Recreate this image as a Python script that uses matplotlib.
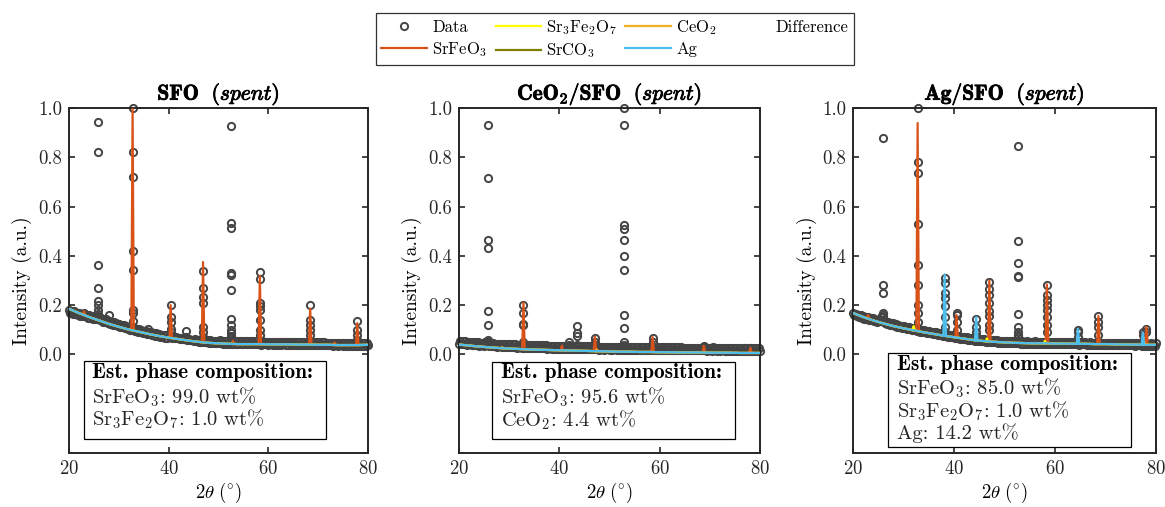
import numpy as np
import matplotlib
matplotlib.use("Agg")
import matplotlib.pyplot as plt
from matplotlib.lines import Line2D
from matplotlib.patches import Rectangle
from matplotlib.ticker import FormatStrFormatter
import matplotlib.patheffects as pe

plt.rcParams.update({
    "font.family": "serif",
    "font.serif": ["cmr10"],
    "mathtext.fontset": "cm",
    "axes.formatter.use_mathtext": True,
    "axes.unicode_minus": False,
})

# ---------------- data ----------------
titles = [r"$\mathbf{SFO}\ \ \mathit{(spent)}$",
          r"$\mathbf{CeO_2/SFO}\ \ \mathit{(spent)}$",
          r"$\mathbf{Ag/SFO}\ \ \mathit{(spent)}$"]

# background data band: two interleaved sample sets (20.0, 20.5 ... and 20.25, 20.75 ...)
band_xa = np.linspace(20, 80, 121)
band_xb = np.linspace(20.25, 79.75, 120)

p1_band_a = [0.182, 0.178, 0.175, 0.170, 0.168, 0.166, 0.168, 0.160, 0.158, 0.154,
             0.152, 0.158, 0.150, 0.146, 0.140, 0.142, 0.136, 0.133, 0.130, 0.127,
             0.125, 0.121, 0.118, 0.115, 0.113, 0.110, 0.106, 0.104, 0.102, 0.100,
             0.097, 0.094, 0.092, 0.090, 0.087, 0.085, 0.083, 0.080, 0.079, 0.077,
             0.075, 0.073, 0.071, 0.069, 0.068, 0.066, 0.064, 0.063, 0.061, 0.060,
             0.055, 0.054, 0.052, 0.051, 0.050, 0.049, 0.048, 0.047, 0.047, 0.046,
             0.045, 0.045, 0.044, 0.044, 0.043, 0.044, 0.043, 0.042, 0.043, 0.042,
             0.042, 0.043, 0.041, 0.042, 0.041, 0.042, 0.041, 0.040, 0.041, 0.041,
             0.040, 0.041, 0.039, 0.040, 0.040, 0.039, 0.041, 0.039, 0.040, 0.039,
             0.039, 0.040, 0.038, 0.039, 0.039, 0.038, 0.039, 0.038, 0.039, 0.038,
             0.038, 0.037, 0.038, 0.037, 0.037, 0.038, 0.036, 0.037, 0.036, 0.037,
             0.036, 0.035, 0.036, 0.035, 0.036, 0.035, 0.035, 0.036, 0.035, 0.036,
             0.037]
p1_band_b = [0.170, 0.166, 0.163, 0.159, 0.157, 0.157, 0.154, 0.149, 0.146, 0.143,
             0.145, 0.144, 0.138, 0.133, 0.131, 0.129, 0.125, 0.121, 0.118, 0.116,
             0.113, 0.110, 0.106, 0.104, 0.101, 0.098, 0.095, 0.093, 0.091, 0.088,
             0.085, 0.083, 0.081, 0.078, 0.076, 0.074, 0.071, 0.069, 0.068, 0.066,
             0.070, 0.068, 0.067, 0.065, 0.064, 0.062, 0.061, 0.060, 0.059, 0.059,
             0.061, 0.060, 0.059, 0.058, 0.058, 0.057, 0.057, 0.056, 0.056, 0.056,
             0.057, 0.056, 0.056, 0.055, 0.055, 0.055, 0.054, 0.054, 0.054, 0.054,
             0.054, 0.053, 0.053, 0.053, 0.053, 0.053, 0.052, 0.053, 0.052, 0.052,
             0.052, 0.052, 0.052, 0.051, 0.052, 0.051, 0.051, 0.051, 0.051, 0.051,
             0.051, 0.050, 0.050, 0.050, 0.050, 0.050, 0.050, 0.049, 0.049, 0.049,
             0.049, 0.049, 0.049, 0.048, 0.048, 0.048, 0.048, 0.048, 0.047, 0.047,
             0.047, 0.047, 0.047, 0.047, 0.047, 0.047, 0.047, 0.047, 0.047, 0.048]
p2_band_a = [0.044, 0.042, 0.043, 0.040, 0.041, 0.039, 0.038, 0.039, 0.036, 0.037,
             0.035, 0.040, 0.034, 0.035, 0.033, 0.032, 0.033, 0.031, 0.032, 0.030,
             0.030, 0.029, 0.030, 0.028, 0.029, 0.028, 0.027, 0.028, 0.026, 0.027,
             0.026, 0.026, 0.025, 0.026, 0.025, 0.024, 0.025, 0.024, 0.024, 0.023,
             0.024, 0.023, 0.024, 0.023, 0.022, 0.023, 0.022, 0.022, 0.023, 0.022,
             0.021, 0.022, 0.021, 0.021, 0.022, 0.021, 0.020, 0.021, 0.020, 0.021,
             0.020, 0.020, 0.021, 0.020, 0.019, 0.020, 0.019, 0.020, 0.019, 0.019,
             0.019, 0.018, 0.019, 0.019, 0.018, 0.019, 0.018, 0.018, 0.019, 0.018,
             0.018, 0.017, 0.018, 0.017, 0.018, 0.017, 0.017, 0.018, 0.017, 0.017,
             0.016, 0.017, 0.016, 0.017, 0.016, 0.016, 0.017, 0.016, 0.016, 0.015,
             0.016, 0.015, 0.016, 0.015, 0.015, 0.016, 0.015, 0.015, 0.014, 0.015,
             0.015, 0.014, 0.015, 0.014, 0.014, 0.015, 0.014, 0.014, 0.013, 0.014,
             0.013]
p2_band_b = [0.055, 0.054, 0.053, 0.052, 0.052, 0.050, 0.050, 0.049, 0.048, 0.047,
             0.049, 0.049, 0.046, 0.046, 0.044, 0.044, 0.044, 0.043, 0.043, 0.042,
             0.041, 0.041, 0.041, 0.040, 0.040, 0.039, 0.039, 0.039, 0.038, 0.038,
             0.038, 0.037, 0.037, 0.037, 0.037, 0.036, 0.036, 0.036, 0.035, 0.035,
             0.035, 0.035, 0.035, 0.034, 0.034, 0.034, 0.034, 0.034, 0.034, 0.033,
             0.033, 0.033, 0.033, 0.033, 0.033, 0.032, 0.032, 0.032, 0.032, 0.032,
             0.032, 0.032, 0.032, 0.031, 0.031, 0.031, 0.031, 0.031, 0.031, 0.031,
             0.030, 0.030, 0.031, 0.030, 0.030, 0.030, 0.030, 0.030, 0.030, 0.030,
             0.029, 0.029, 0.029, 0.029, 0.029, 0.029, 0.029, 0.029, 0.029, 0.028,
             0.028, 0.028, 0.028, 0.028, 0.028, 0.028, 0.028, 0.028, 0.027, 0.027,
             0.027, 0.027, 0.027, 0.027, 0.027, 0.027, 0.027, 0.026, 0.026, 0.026,
             0.026, 0.026, 0.026, 0.026, 0.026, 0.026, 0.026, 0.025, 0.025, 0.025]
p3_band_a = [0.170, 0.166, 0.162, 0.160, 0.155, 0.152, 0.150, 0.146, 0.147, 0.141,
             0.140, 0.152, 0.138, 0.133, 0.131, 0.128, 0.126, 0.122, 0.121, 0.117,
             0.116, 0.113, 0.112, 0.109, 0.107, 0.106, 0.103, 0.100, 0.099, 0.097,
             0.095, 0.093, 0.091, 0.089, 0.087, 0.085, 0.083, 0.081, 0.080, 0.078,
             0.077, 0.075, 0.073, 0.072, 0.070, 0.069, 0.067, 0.066, 0.065, 0.064,
             0.063, 0.062, 0.061, 0.060, 0.059, 0.058, 0.058, 0.057, 0.056, 0.056,
             0.055, 0.055, 0.054, 0.054, 0.053, 0.054, 0.053, 0.053, 0.052, 0.053,
             0.052, 0.052, 0.053, 0.052, 0.051, 0.052, 0.051, 0.051, 0.052, 0.051,
             0.051, 0.050, 0.051, 0.050, 0.050, 0.051, 0.050, 0.049, 0.050, 0.049,
             0.049, 0.050, 0.049, 0.048, 0.049, 0.048, 0.048, 0.049, 0.048, 0.047,
             0.048, 0.047, 0.047, 0.048, 0.047, 0.046, 0.047, 0.046, 0.046, 0.045,
             0.046, 0.045, 0.045, 0.046, 0.045, 0.044, 0.045, 0.044, 0.045, 0.044,
             0.045]
p3_band_b = [0.159, 0.155, 0.152, 0.148, 0.145, 0.142, 0.139, 0.138, 0.135, 0.132,
             0.137, 0.136, 0.127, 0.123, 0.121, 0.118, 0.115, 0.113, 0.110, 0.108,
             0.106, 0.104, 0.102, 0.099, 0.098, 0.096, 0.093, 0.091, 0.089, 0.087,
             0.085, 0.083, 0.081, 0.079, 0.077, 0.075, 0.073, 0.072, 0.070, 0.069,
             0.067, 0.065, 0.064, 0.062, 0.061, 0.059, 0.058, 0.057, 0.056, 0.055,
             0.054, 0.053, 0.052, 0.051, 0.050, 0.049, 0.049, 0.048, 0.047, 0.047,
             0.046, 0.046, 0.045, 0.045, 0.045, 0.045, 0.044, 0.044, 0.044, 0.044,
             0.043, 0.044, 0.044, 0.043, 0.043, 0.043, 0.042, 0.043, 0.043, 0.042,
             0.042, 0.042, 0.042, 0.041, 0.042, 0.042, 0.041, 0.041, 0.041, 0.040,
             0.041, 0.041, 0.040, 0.040, 0.040, 0.040, 0.040, 0.040, 0.039, 0.039,
             0.039, 0.038, 0.039, 0.039, 0.038, 0.038, 0.038, 0.037, 0.037, 0.037,
             0.037, 0.036, 0.037, 0.037, 0.036, 0.036, 0.036, 0.036, 0.036, 0.036]

# fitted background (2-theta every 2 degrees)
bg_x = np.arange(20, 81, 2)
p1_bg = [0.185, 0.168, 0.152, 0.138, 0.124, 0.112, 0.101, 0.092, 0.083, 0.075,
         0.068, 0.062, 0.056, 0.051, 0.047, 0.045, 0.043, 0.042, 0.042, 0.042,
         0.041, 0.041, 0.041, 0.040, 0.040, 0.039, 0.039, 0.038, 0.038, 0.038, 0.039]
p2_bg = [0.040, 0.036, 0.032, 0.029, 0.026, 0.024, 0.022, 0.020, 0.019, 0.018,
         0.017, 0.016, 0.015, 0.014, 0.013, 0.012, 0.011, 0.011, 0.010, 0.010,
         0.009, 0.009, 0.008, 0.008, 0.008, 0.007, 0.007, 0.007, 0.006, 0.006, 0.006]
p3_bg = [0.168, 0.152, 0.138, 0.126, 0.115, 0.106, 0.098, 0.090, 0.083, 0.076,
         0.070, 0.064, 0.058, 0.054, 0.051, 0.049, 0.047, 0.046, 0.045, 0.045,
         0.044, 0.044, 0.043, 0.043, 0.042, 0.042, 0.041, 0.040, 0.040, 0.039, 0.039]

# data points in peak columns
p1_spike_x = [25.75, 28.0, 32.76, 35.9, 40.4, 43.4, 46.9, 52.6, 58.3, 68.4, 77.85]
p1_spike_y = [[0.944, 0.822, 0.363, 0.268, 0.217, 0.20, 0.18, 0.165],
              [0.16],
              [1.0, 0.822, 0.72, 0.419, 0.343, 0.18, 0.17, 0.135, 0.11],
              [0.105],
              [0.20, 0.15, 0.13, 0.105, 0.09],
              [0.095, 0.07],
              [0.34, 0.27, 0.235, 0.21, 0.11, 0.09, 0.07],
              [0.928, 0.535, 0.512, 0.332, 0.321, 0.26, 0.142, 0.119, 0.10, 0.085, 0.075, 0.065],
              [0.336, 0.305, 0.21, 0.195, 0.18, 0.14, 0.10, 0.08],
              [0.20, 0.14, 0.12, 0.10, 0.08],
              [0.135, 0.10, 0.08, 0.06]]
p2_spike_x = [25.86, 32.85, 40.5, 42.0, 43.6, 47.1, 52.8, 58.6, 68.8, 70.7, 78.1]
p2_spike_y = [[0.929, 0.714, 0.466, 0.43, 0.175, 0.119, 0.06, 0.05],
              [0.20, 0.17, 0.125, 0.12, 0.05, 0.04],
              [0.035],
              [0.05, 0.04],
              [0.117, 0.085, 0.075, 0.04],
              [0.065, 0.05],
              [1.0, 0.933, 0.524, 0.508, 0.465, 0.398, 0.344, 0.16, 0.109, 0.05, 0.04],
              [0.068, 0.05],
              [0.035, 0.03],
              [0.03],
              [0.028]]
p3_spike_x = [25.9, 32.8, 38.15, 40.5, 44.4, 47.0, 52.7, 58.4, 64.55, 68.6, 77.4, 78.1]
p3_spike_y = [[0.879, 0.28, 0.25, 0.17, 0.16, 0.15],
              [1.0, 0.779, 0.735, 0.53, 0.361, 0.28, 0.2, 0.17, 0.13, 0.10],
              [0.31, 0.29, 0.25, 0.23, 0.195, 0.15, 0.11, 0.09],
              [0.17, 0.16, 0.13, 0.10],
              [0.145, 0.11, 0.09, 0.075],
              [0.295, 0.265, 0.24, 0.21, 0.175, 0.155, 0.12, 0.10],
              [0.845, 0.46, 0.37, 0.318, 0.315, 0.164, 0.11, 0.09, 0.08, 0.07],
              [0.28, 0.24, 0.22, 0.20, 0.18, 0.15, 0.12, 0.09],
              [0.10, 0.09, 0.07],
              [0.155, 0.13, 0.11, 0.08],
              [0.09, 0.08],
              [0.105, 0.09]]

# fitted phase peaks: (positions, heights)
p1_peaks = {"SrFeO3": ([23.0, 32.76, 40.4, 46.9, 52.9, 58.3, 68.4, 73.3, 77.85],
                       [0.175, 1.0, 0.20, 0.375, 0.055, 0.318, 0.186, 0.048, 0.127])}
p2_peaks = {"SrFeO3": ([32.85, 40.5, 47.1, 58.6, 68.8, 78.1],
                       [0.21, 0.035, 0.072, 0.07, 0.035, 0.027]),
            "CeO2": ([28.6, 47.5], [0.03, 0.02])}
p3_peaks = {"SrFeO3": ([23.0, 32.8, 40.5, 47.0, 58.4, 68.6, 78.1],
                       [0.16, 0.939, 0.16, 0.30, 0.284, 0.156, 0.112]),
            "Sr3Fe2O7": ([32.0, 46.5, 58.0, 77.6], [0.115, 0.065, 0.055, 0.05]),
            "Ag": ([38.15, 44.4, 64.55, 77.4], [0.325, 0.151, 0.104, 0.089])}

box_title = "Est. phase composition:"
compositions = [
    [r"SrFeO$_3$: 99.0 wt%", r"Sr$_3$Fe$_2$O$_7$: 1.0 wt%"],
    [r"SrFeO$_3$: 95.6 wt%", r"CeO$_2$: 4.4 wt%"],
    [r"SrFeO$_3$: 85.0 wt%", r"Sr$_3$Fe$_2$O$_7$: 1.0 wt%", r"Ag: 14.2 wt%"],
]

phases = ["SrFeO3", "Sr3Fe2O7", "SrCO3", "CeO2", "Ag"]
phase_labels = [r"SrFeO$_3$", r"Sr$_3$Fe$_2$O$_7$", r"SrCO$_3$", r"CeO$_2$", "Ag"]
colors = {"SrFeO3": "#D95319", "Sr3Fe2O7": "#FFFF00", "SrCO3": "#808000",
          "CeO2": "#EDB120", "Ag": "#4DBEEE"}
C_DATA = "#444444"

panels = [
    (p1_band_a, p1_band_b, p1_bg, p1_spike_x, p1_spike_y, p1_peaks),
    (p2_band_a, p2_band_b, p2_bg, p2_spike_x, p2_spike_y, p2_peaks),
    (p3_band_a, p3_band_b, p3_bg, p3_spike_x, p3_spike_y, p3_peaks),
]

# ---------------- layout (pixels) ----------------
W, H = 1165, 507
AX_TOP, AX_BOT = 108, 453
ax_px = [(69, 299), (459, 301), (853, 303)]
# box: left, right, top, bottom ; text left ; line centre y's
box_px = [(84, 326, 361, 439, 92, [373, 397, 419]),
          (492, 735, 362, 439, 501, [373, 397, 420]),
          (888, 1131, 353, 447, 897, [365, 388, 411, 433])]

fig = plt.figure(figsize=(W / 100, H / 100), dpi=100)
LW = 1.6
MS, MEW = 5.2, 1.4


def fx(px):
    return px / W


def fy(py):
    return 1 - py / H


for i, (band_a, band_b, bg, sx, sy, peaks) in enumerate(panels):
    l, w = ax_px[i]
    ax = fig.add_axes([fx(l), fy(AX_BOT), w / W, (AX_BOT - AX_TOP) / H])
    # data
    xs = list(band_xa) + list(band_xb)
    ys = list(band_a) + list(band_b)
    for x0, col in zip(sx, sy):
        xs += [x0] * len(col)
        ys += col
    ax.plot(xs, ys, ls="none", marker="o", ms=MS, mfc="none", mec=C_DATA,
            mew=MEW, clip_on=False, zorder=2)
    # fitted phases
    for ph in phases:
        c = colors[ph]
        ax.plot(bg_x, bg, color=c, lw=LW, zorder=3, solid_joinstyle="round")
        if ph in peaks:
            pos, hts = peaks[ph]
            for p, h in zip(pos, hts):
                b = np.interp(p, bg_x, bg)
                ax.plot([p - 0.25, p, p + 0.25], [b, h, b], color=c, lw=LW,
                        zorder=3, solid_joinstyle="round")
    ax.set_xlim(20, 80)
    ax.set_ylim(-0.4, 1.0)
    ax.set_xticks([20, 40, 60, 80])
    ax.set_yticks([0, 0.2, 0.4, 0.6, 0.8, 1.0])
    ax.yaxis.set_major_formatter(FormatStrFormatter("%.1f"))
    ax.tick_params(direction="in", top=True, right=True, length=4, width=1.2,
                   labelsize=13.5, colors="#262626", pad=5)
    for s in ax.spines.values():
        s.set_linewidth(1.4)
        s.set_color("#262626")
    ax.set_xlabel(r"$2\theta\ (^{\circ})$", fontsize=13.5, labelpad=2)
    ax.set_ylabel("Intensity (a.u.)", fontsize=14, labelpad=4)
    t = ax.set_title(titles[i], fontsize=15.5, pad=6)
    t.set_path_effects([pe.withStroke(linewidth=0.6, foreground="black")])

    # composition box
    bl, br, bt, bb, tl, lys = box_px[i]
    fig.add_artist(Rectangle((fx(bl), fy(bb)), (br - bl) / W, (bb - bt) / H,
                             transform=fig.transFigure, fc="white", ec="black",
                             lw=0.9, zorder=5))
    fig.text(fx(tl), fy(lys[0]), box_title, family="cmb10", fontsize=15.3,
             ha="left", va="center", zorder=6)
    for line, yy in zip(compositions[i], lys[1:]):
        fig.text(fx(tl), fy(yy), line, fontsize=14.8, ha="left", va="center",
                 zorder=6, color="#262626")

handles = [Line2D([], [], ls="none", marker="o", ms=MS, mfc="none", mec=C_DATA, mew=MEW)]
handles += [Line2D([], [], color=colors[ph], lw=LW) for ph in phases]
handles += [Line2D([], [], color="none", lw=LW)]
labels = ["Data"] + phase_labels + ["Difference"]
leg = fig.legend(handles, labels, loc="upper center", bbox_to_anchor=(fx(615), fy(13)),
                 borderaxespad=0, ncol=4, frameon=True, fancybox=False,
                 edgecolor="black", handlelength=2.75, columnspacing=0.5,
                 handletextpad=0.3, fontsize=12, borderpad=0.3, labelspacing=0.28)
leg.get_frame().set_linewidth(0.9)

fig.savefig("out.png", dpi=100)
